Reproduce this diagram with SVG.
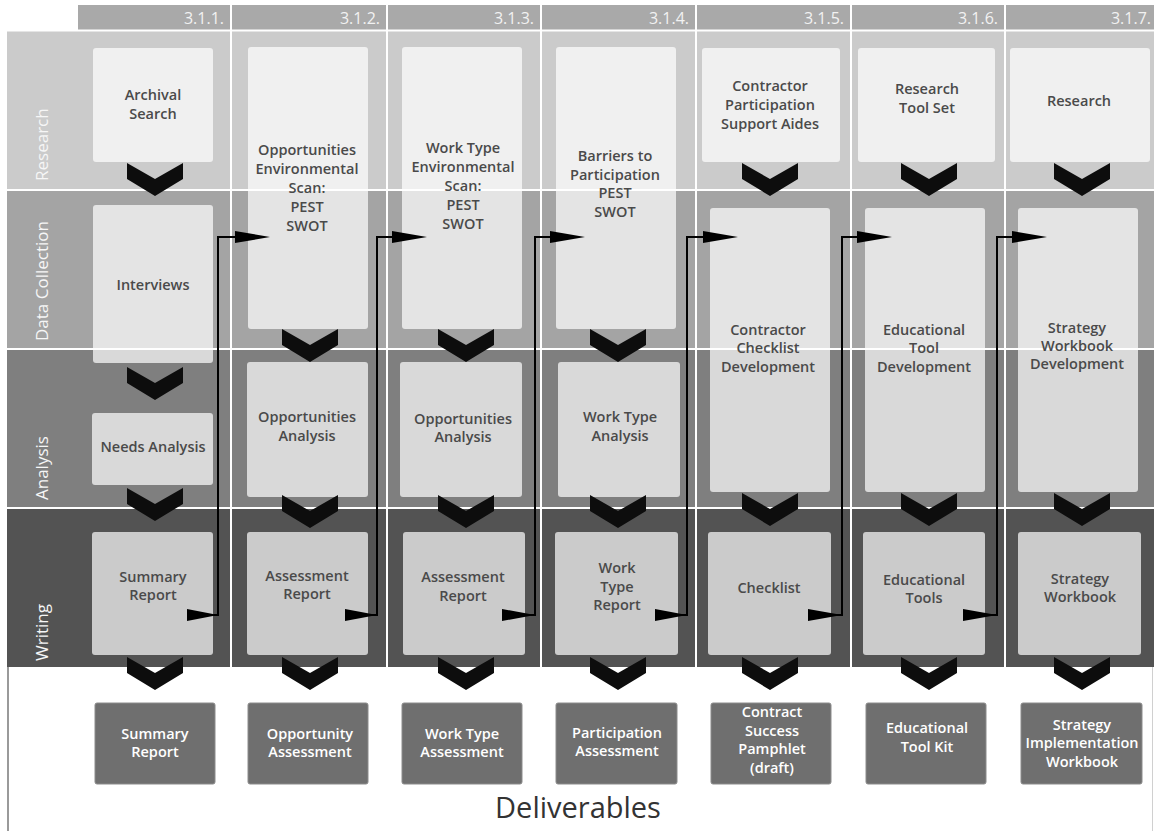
<svg xmlns="http://www.w3.org/2000/svg" width="1154" height="831" viewBox="0 0 1154 831">
<defs>
<style>
.bl{font-family:"Open Sans","Liberation Sans",sans-serif;font-size:17px;fill:#f6f6f6}
.hd{font-family:"Open Sans","Liberation Sans",sans-serif;font-size:16px;fill:#f2f2f2;text-anchor:end}
.bx{fill:#ffffff;fill-opacity:0.7}
.t{font-family:"Open Sans","Liberation Sans",sans-serif;font-size:14.5px;font-weight:600;fill:#4a4a4a;text-anchor:middle}
.dl{fill:#6f6f6f;stroke:#8c8c8c;stroke-width:1}
.dt{font-family:"Open Sans","Liberation Sans",sans-serif;font-size:14.5px;font-weight:600;fill:#ffffff;text-anchor:middle}
.sep{stroke:#ffffff;stroke-width:2}
.cn{fill:none;stroke:#000000;stroke-width:2}
.ah{fill:#000000}
.ch{fill:#0d0d0d}
</style>
<polygon id="chev" points="-28,0 0,16 28,0 28,16 0,33 -28,16"/>
</defs>

<rect x="0" y="0" width="1154" height="831" fill="#ffffff"/>

<g id="bands">
<rect x="78" y="5" width="1076" height="25" fill="#a9a9a9"/>
<rect x="7" y="31" width="1147" height="159" fill="#cbcbcb"/>
<rect x="7" y="190" width="1147" height="159" fill="#a4a4a4"/>
<rect x="7" y="349" width="1147" height="159" fill="#7f7f7f"/>
<rect x="7" y="508" width="1147" height="159" fill="#535353"/>
<line class="sep" x1="7" y1="30.5" x2="1154" y2="30.5"/>
<line class="sep" x1="7" y1="190" x2="1154" y2="190"/>
<line class="sep" x1="7" y1="349" x2="1154" y2="349"/>
<line class="sep" x1="7" y1="508" x2="1154" y2="508"/>
<line class="sep" x1="231" y1="5" x2="231" y2="667"/>
<line class="sep" x1="387" y1="5" x2="387" y2="667"/>
<line class="sep" x1="541" y1="5" x2="541" y2="667"/>
<line class="sep" x1="696" y1="5" x2="696" y2="667"/>
<line class="sep" x1="851" y1="5" x2="851" y2="667"/>
<line class="sep" x1="1005" y1="5" x2="1005" y2="667"/>
<line x1="8" y1="667" x2="8" y2="831" stroke="#9a9a9a" stroke-width="2"/>
<line x1="1152.5" y1="667" x2="1152.5" y2="831" stroke="#d0d0d0" stroke-width="1"/>
<text class="hd" x="224" y="24">3.1.1.</text>
<text class="hd" x="380" y="24">3.1.2.</text>
<text class="hd" x="534" y="24">3.1.3.</text>
<text class="hd" x="689" y="24">3.1.4.</text>
<text class="hd" x="844" y="24">3.1.5.</text>
<text class="hd" x="998" y="24">3.1.6.</text>
<text class="hd" x="1151" y="24">3.1.7.</text>
<text class="bl" transform="translate(48,181) rotate(-90)">Research</text>
<text class="bl" transform="translate(48,341) rotate(-90)">Data Collection</text>
<text class="bl" transform="translate(48,500) rotate(-90)">Analysis</text>
<text class="bl" transform="translate(48,661) rotate(-90)">Writing</text>
</g>

<g id="col1">
<rect class="bx" x="93" y="48" width="120" height="114" rx="3"/>
<text class="t" x="153"><tspan x="153" y="100">Archival</tspan><tspan x="153" y="119">Search</tspan></text>
<rect class="bx" x="93" y="205" width="120" height="158" rx="3"/>
<text class="t" x="153" y="290">Interviews</text>
<rect class="bx" x="92" y="413" width="121" height="72" rx="3"/>
<text class="t" x="153" y="452">Needs Analysis</text>
<rect class="bx" x="92" y="532" width="121" height="123" rx="3"/>
<text class="t" x="153"><tspan x="153" y="582">Summary</tspan><tspan x="153" y="600">Report</tspan></text>
</g>

<g id="col2">
<rect class="bx" x="248" y="47" width="120" height="282" rx="3"/>
<text class="t"><tspan x="307" y="155">Opportunities</tspan><tspan x="307" y="174">Environmental</tspan><tspan x="307" y="193">Scan:</tspan><tspan x="307" y="212">PEST</tspan><tspan x="307" y="231">SWOT</tspan></text>
<rect class="bx" x="247" y="362" width="121" height="135" rx="3"/>
<text class="t"><tspan x="307" y="422">Opportunities</tspan><tspan x="307" y="441">Analysis</tspan></text>
<rect class="bx" x="247" y="532" width="121" height="123" rx="3"/>
<text class="t"><tspan x="307" y="581">Assessment</tspan><tspan x="307" y="599">Report</tspan></text>
</g>

<g id="col3">
<rect class="bx" x="402" y="47" width="120" height="282" rx="3"/>
<text class="t"><tspan x="463" y="153">Work Type</tspan><tspan x="463" y="172">Environmental</tspan><tspan x="463" y="191">Scan:</tspan><tspan x="463" y="210">PEST</tspan><tspan x="463" y="229">SWOT</tspan></text>
<rect class="bx" x="400" y="362" width="122" height="135" rx="3"/>
<text class="t"><tspan x="463" y="424">Opportunities</tspan><tspan x="463" y="442">Analysis</tspan></text>
<rect class="bx" x="403" y="532" width="122" height="123" rx="3"/>
<text class="t"><tspan x="463" y="582">Assessment</tspan><tspan x="463" y="601">Report</tspan></text>
</g>

<g id="col4">
<rect class="bx" x="556" y="47" width="120" height="282" rx="3"/>
<text class="t"><tspan x="615" y="161">Barriers to</tspan><tspan x="615" y="180">Participation</tspan><tspan x="615" y="198">PEST</tspan><tspan x="615" y="217">SWOT</tspan></text>
<rect class="bx" x="558" y="362" width="122" height="135" rx="3"/>
<text class="t"><tspan x="620" y="422">Work Type</tspan><tspan x="620" y="441">Analysis</tspan></text>
<rect class="bx" x="555" y="532" width="123" height="123" rx="3"/>
<text class="t"><tspan x="617" y="573">Work</tspan><tspan x="617" y="592">Type</tspan><tspan x="617" y="610">Report</tspan></text>
</g>

<g id="col5">
<rect class="bx" x="702" y="48" width="138" height="114" rx="3"/>
<text class="t"><tspan x="770" y="91">Contractor</tspan><tspan x="770" y="110">Participation</tspan><tspan x="770" y="129">Support Aides</tspan></text>
<rect class="bx" x="710" y="208" width="120" height="284" rx="3"/>
<text class="t"><tspan x="768" y="335">Contractor</tspan><tspan x="768" y="353">Checklist</tspan><tspan x="768" y="372">Development</tspan></text>
<rect class="bx" x="708" y="532" width="123" height="123" rx="3"/>
<text class="t" x="769" y="593">Checklist</text>
</g>

<g id="col6">
<rect class="bx" x="858" y="48" width="137" height="114" rx="3"/>
<text class="t"><tspan x="927" y="94">Research</tspan><tspan x="927" y="113">Tool Set</tspan></text>
<rect class="bx" x="865" y="208" width="120" height="284" rx="3"/>
<text class="t"><tspan x="924" y="335">Educational</tspan><tspan x="924" y="353">Tool</tspan><tspan x="924" y="372">Development</tspan></text>
<rect class="bx" x="863" y="532" width="122" height="123" rx="3"/>
<text class="t"><tspan x="924" y="585">Educational</tspan><tspan x="924" y="603">Tools</tspan></text>
</g>

<g id="col7">
<rect class="bx" x="1010" y="48" width="140" height="114" rx="3"/>
<text class="t" x="1079" y="106">Research</text>
<rect class="bx" x="1018" y="208" width="120" height="284" rx="3"/>
<text class="t"><tspan x="1077" y="333">Strategy</tspan><tspan x="1077" y="351">Workbook</tspan><tspan x="1077" y="369">Development</tspan></text>
<rect class="bx" x="1018" y="532" width="123" height="123" rx="3"/>
<text class="t"><tspan x="1080" y="584">Strategy</tspan><tspan x="1080" y="602">Workbook</tspan></text>
</g>

<g id="chevrons" class="ch">
<use href="#chev" x="155" y="163"/>
<use href="#chev" x="155" y="367"/>
<use href="#chev" x="155" y="488"/>
<use href="#chev" x="155" y="657"/>
<use href="#chev" x="310" y="329"/>
<use href="#chev" x="310" y="495"/>
<use href="#chev" x="310" y="657"/>
<use href="#chev" x="466" y="329"/>
<use href="#chev" x="466" y="495"/>
<use href="#chev" x="466" y="657"/>
<use href="#chev" x="618" y="329"/>
<use href="#chev" x="618" y="495"/>
<use href="#chev" x="618" y="657"/>
<use href="#chev" x="770" y="163"/>
<use href="#chev" x="770" y="493"/>
<use href="#chev" x="770" y="657"/>
<use href="#chev" x="929" y="163"/>
<use href="#chev" x="929" y="493"/>
<use href="#chev" x="929" y="657"/>
<use href="#chev" x="1082" y="163"/>
<use href="#chev" x="1082" y="493"/>
<use href="#chev" x="1082" y="657"/>
</g>

<g id="connectors">
<polyline class="cn" points="187,615 218,615 218,237 240,237"/>
<polygon class="ah" points="187,609 187,621 218,615"/>
<polygon class="ah" points="235,231 270,237 235,243"/>
<polyline class="cn" points="345,615 377,615 377,237 397,237"/>
<polygon class="ah" points="345,609 345,621 377,615"/>
<polygon class="ah" points="392,231 427,237 392,243"/>
<polyline class="cn" points="502,615 535,615 535,237 555,237"/>
<polygon class="ah" points="502,609 502,621 535,615"/>
<polygon class="ah" points="550,231 585,237 550,243"/>
<polyline class="cn" points="655,615 687,615 687,237 708,237"/>
<polygon class="ah" points="655,609 655,621 687,615"/>
<polygon class="ah" points="703,231 738,237 703,243"/>
<polyline class="cn" points="808,615 842,615 842,237 862,237"/>
<polygon class="ah" points="808,609 808,621 842,615"/>
<polygon class="ah" points="857,231 892,237 857,243"/>
<polyline class="cn" points="963,615 997,615 997,237 1017,237"/>
<polygon class="ah" points="963,609 963,621 997,615"/>
<polygon class="ah" points="1012,231 1047,237 1012,243"/>
</g>

<g id="deliverables">
<rect class="dl" x="95" y="703" width="120" height="81" rx="2"/>
<text class="dt"><tspan x="155" y="739">Summary</tspan><tspan x="155" y="757">Report</tspan></text>
<rect class="dl" x="248" y="703" width="120" height="81" rx="2"/>
<text class="dt"><tspan x="310" y="739">Opportunity</tspan><tspan x="310" y="757">Assessment</tspan></text>
<rect class="dl" x="402" y="703" width="120" height="81" rx="2"/>
<text class="dt"><tspan x="462" y="739">Work Type</tspan><tspan x="462" y="757">Assessment</tspan></text>
<rect class="dl" x="556" y="703" width="121" height="81" rx="2"/>
<text class="dt"><tspan x="617" y="738">Participation</tspan><tspan x="617" y="756">Assessment</tspan></text>
<rect class="dl" x="711" y="703" width="120" height="81" rx="2"/>
<text class="dt"><tspan x="772" y="717">Contract</tspan><tspan x="772" y="736">Success</tspan><tspan x="772" y="754">Pamphlet</tspan><tspan x="772" y="773">(draft)</tspan></text>
<rect class="dl" x="866" y="703" width="120" height="81" rx="2"/>
<text class="dt"><tspan x="927" y="733">Educational</tspan><tspan x="927" y="752">Tool Kit</tspan></text>
<rect class="dl" x="1021" y="703" width="121" height="81" rx="2"/>
<text class="dt"><tspan x="1082" y="730">Strategy</tspan><tspan x="1082" y="748">Implementation</tspan><tspan x="1082" y="767">Workbook</tspan></text>
<text x="578" y="818" font-family="'Open Sans','Liberation Sans',sans-serif" font-size="29" fill="#333333" text-anchor="middle">Deliverables</text>
</g>
</svg>
